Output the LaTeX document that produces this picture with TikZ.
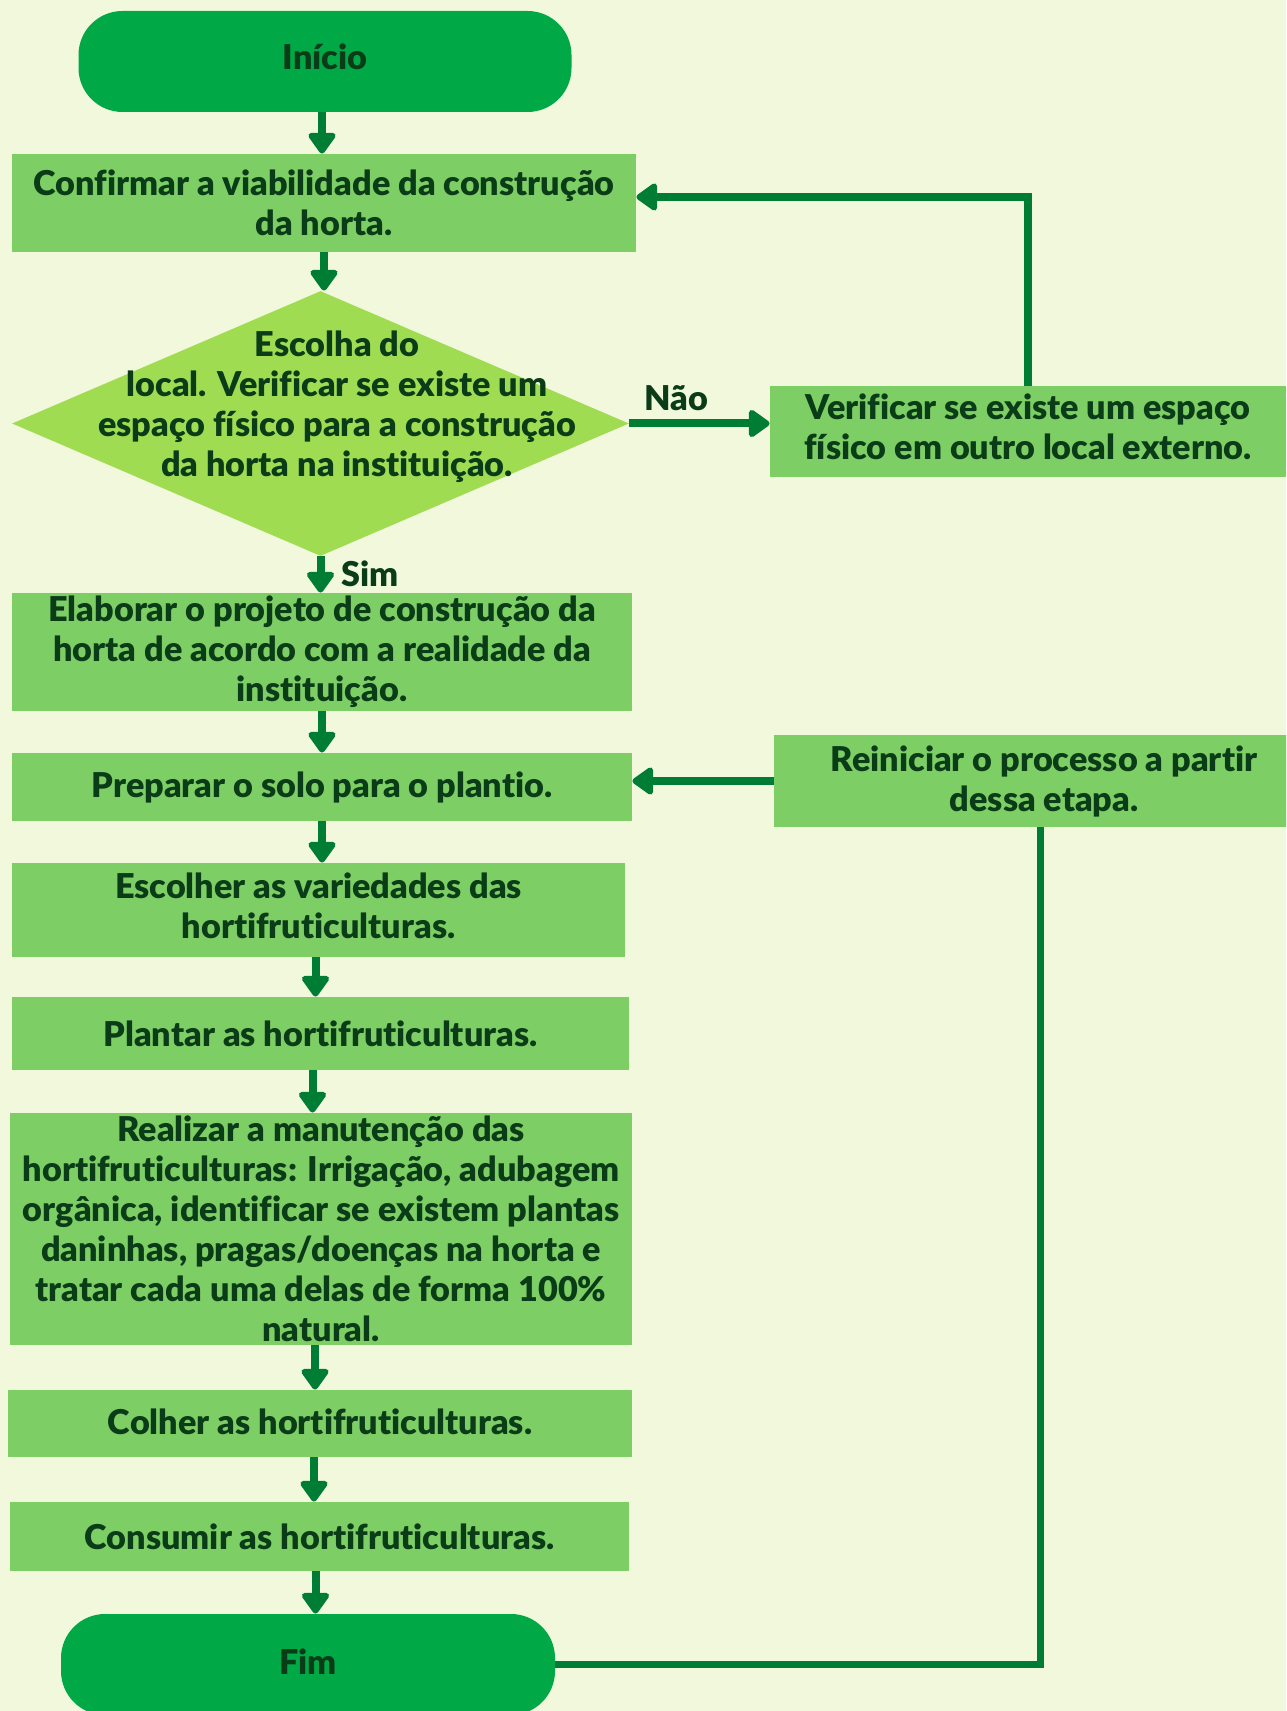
\documentclass[tikz,border=0pt]{standalone}
\usepackage{fontspec}
\setmainfont{Lato}[Ligatures={NoCommon},BoldFont={Lato Black}]
\usetikzlibrary{arrows.meta,shapes.geometric,calc}
\definecolor{bg}{RGB}{242,248,220}
\definecolor{boxg}{RGB}{126,206,102}
\definecolor{diag}{RGB}{160,220,82}
\definecolor{termg}{RGB}{0,169,69}
\definecolor{arrg}{RGB}{0,125,52}
\definecolor{txt}{RGB}{10,60,24}
\newcommand{\upby}[2]{\raisebox{#1}{\begin{tabular}{@{}c@{}}#2\end{tabular}}}
\begin{document}
\begin{tikzpicture}[x=0.5pt,y=-0.5pt,
  font=\fontsize{17.1}{20}\selectfont\bfseries,
  box/.style={rectangle, fill=boxg, inner sep=0pt, align=center, text=txt},
  term/.style={rectangle, rounded corners=22pt, fill=termg, inner sep=0pt, align=center, text=txt, minimum height=50.5pt},
  arr/.style={draw=arrg, line width=4pt, -{Triangle[width=15.5pt,length=11.5pt,round]}},
  lnk/.style={draw=arrg, line width=3.5pt},
  lbl/.style={text=txt, inner sep=0pt, align=center}]
\useasboundingbox (0,0) rectangle (1286,1711);
\clip (0,0) rectangle (1286,1711);
\fill[bg] (0,0) rectangle (1286,1711);

\node[term, minimum width=246.5pt] (ini) at (325,61.5) {\raisebox{4.75pt}{Início}};
\node[box, minimum width=312pt, minimum height=49pt] (conf) at (324,203) {Confirmar a viabilidade da construção\\da horta.};
\node[diamond, fill=diag, minimum width=308.5pt, minimum height=132.5pt, inner sep=0pt] (dia) at (320.5,423.5) {};
\node[lbl] (diat) at (337,407) {Escolha do\\local. Verificar se existe um\\espaço físico para a construção\\da horta na instituição.};
\node[box, minimum width=258pt, minimum height=45.5pt] (ver) at (1028,431.5) {\upby{2.7pt}{Verificar se existe um espaço\\físico em outro local externo.}};
\node[box, minimum width=310pt, minimum height=59pt] (elab) at (322,652) {Elaborar o projeto de construção da\\horta de acordo com a realidade da\\instituição.};
\node[box, minimum width=310pt, minimum height=34pt] (prep) at (322,787) {Preparar o solo para o plantio.};
\node[box, minimum width=270pt, minimum height=46pt] (rein) at (1044,781) {Reiniciar o processo a partir\\dessa etapa.};
\node[box, minimum width=306.5pt, minimum height=47pt] (esc) at (318.5,910) {\upby{4pt}{Escolher as variedades das\\hortifruticulturas.}};
\node[box, minimum width=308.5pt, minimum height=36.5pt] (plant) at (320.5,1033.5) {Plantar as hortifruticulturas.};
\node[box, minimum width=311pt, minimum height=116pt] (real) at (321,1229) {Realizar a manutenção das\\hortifruticulturas: Irrigação, adubagem\\orgânica, identificar se existem plantas\\daninhas, pragas/doenças na horta e\\tratar cada uma delas de forma 100\%\\natural.};
\node[box, minimum width=312pt, minimum height=33.5pt] (col) at (320,1423.5) {\raisebox{1.5pt}{Colher as hortifruticulturas.}};
\node[box, minimum width=309.5pt, minimum height=34.5pt] (cons) at (319.5,1536.5) {Consumir as hortifruticulturas.};
\node[term, minimum width=247pt] (fim) at (308,1664.5) {\raisebox{3pt}{Fim}};

\node[lbl] (nao) at (676,398) {Não};
\node[lbl] (sim) at (370,574) {Sim};

\draw[arr] ([xshift=-1.5pt]ini.south) -- ([xshift=-1.5pt]ini.south |- conf.north);
\draw[arr] (conf.south) -- (conf.south |- dia.north);
\draw[arr] (dia.south) -- (dia.south |- elab.north);
\draw[arr] (dia.east) -- (dia.east -| ver.west);
\draw[arr] (ver.north) |- ([yshift=3pt]conf.east);
\draw[arr] (elab.south) -- (elab.south |- prep.north);
\draw[arr] (prep.south) -- (prep.south |- esc.north);
\draw[arr] ([xshift=-1.5pt]esc.south) -- ([xshift=-1.5pt]esc.south |- plant.north);
\draw[arr] ([xshift=-4pt]plant.south) -- ([xshift=-4pt]plant.south |- real.north);
\draw[arr] ([xshift=-3pt]real.south) -- ([xshift=-3pt]real.south |- col.north);
\draw[arr] ([xshift=-3pt]col.south) -- ([xshift=-3pt]col.south |- cons.north);
\draw[arr] ([xshift=-2pt]cons.south) -- ([xshift=-2pt]cons.south |- fim.north);
\draw[arr] (rein.west) -- (rein.west -| prep.east);
\draw[lnk] (fim.east) -| ([xshift=-2pt]rein.south);
\end{tikzpicture}
\end{document}
